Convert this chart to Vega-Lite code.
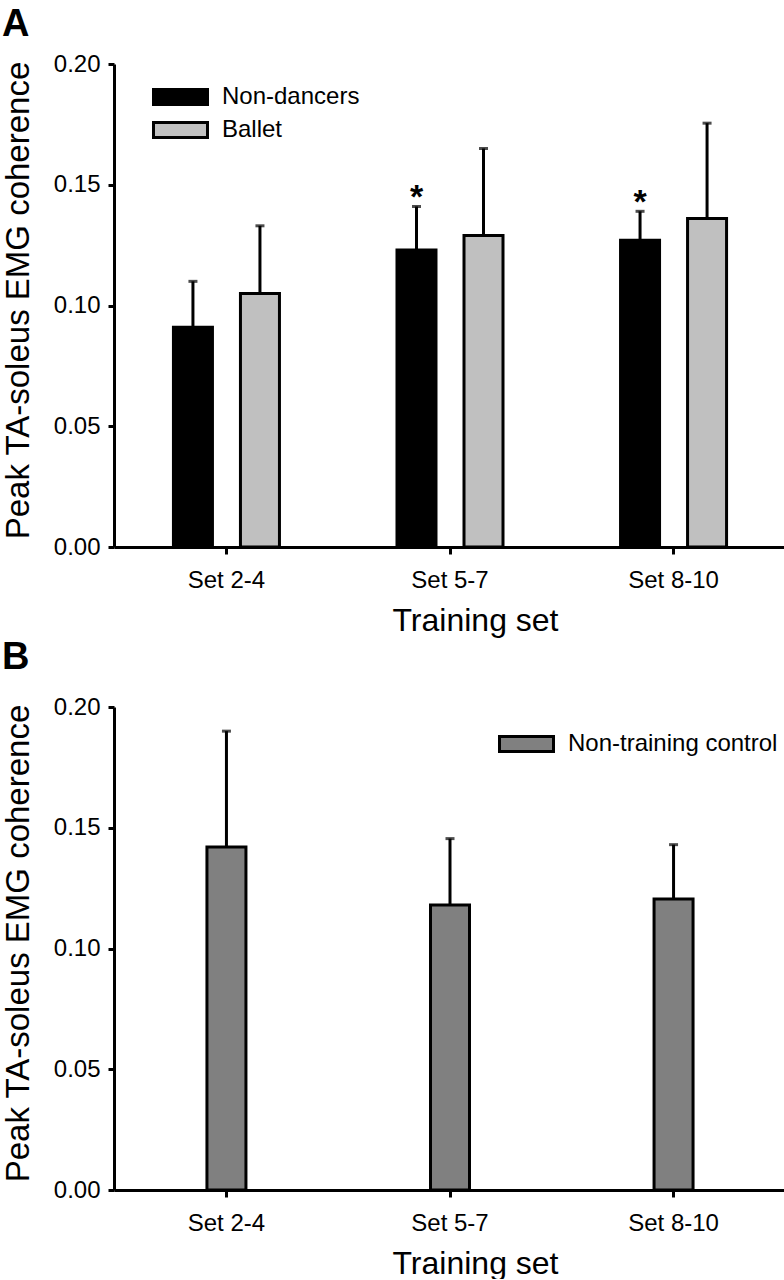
{
  "$schema": "https://vega.github.io/schema/vega-lite/v6.json",
  "background": "white",
  "padding": {"left": 1, "top": 6, "right": 0, "bottom": 0},
  "spacing": 3,
  "resolve": {"scale": {"fill": "independent"}, "legend": {"fill": "independent"}},
  "config": {
    "font": "Liberation Sans",
    "view": {"stroke": null},
    "axis": {
      "grid": false,
      "domainColor": "black",
      "domainWidth": 3,
      "tickColor": "black",
      "tickWidth": 3,
      "labelColor": "black",
      "titleColor": "black",
      "labelFont": "Liberation Sans",
      "titleFont": "Liberation Sans",
      "labelFontSize": 24,
      "titleFontSize": 32,
      "titleFontWeight": "normal"
    },
    "legend": {
      "labelFont": "Liberation Sans",
      "labelFontSize": 24,
      "labelColor": "black",
      "labelLimit": 400,
      "padding": 0
    },
    "title": {"fontSize": 38, "fontWeight": "bold", "color": "black", "anchor": "start", "frame": "bounds", "font": "Liberation Sans"}
  },
  "datasets": {
    "a": [
      {"set": "Set 2-4", "group": "Non-dancers", "value": 0.091, "upper": 0.110, "sig": ""},
      {"set": "Set 2-4", "group": "Ballet", "value": 0.105, "upper": 0.133, "sig": ""},
      {"set": "Set 5-7", "group": "Non-dancers", "value": 0.123, "upper": 0.141, "sig": "*"},
      {"set": "Set 5-7", "group": "Ballet", "value": 0.129, "upper": 0.165, "sig": ""},
      {"set": "Set 8-10", "group": "Non-dancers", "value": 0.127, "upper": 0.139, "sig": "*"},
      {"set": "Set 8-10", "group": "Ballet", "value": 0.136, "upper": 0.1755, "sig": ""}
    ],
    "b": [
      {"set": "Set 2-4", "group": "Non-training control", "value": 0.142, "upper": 0.190},
      {"set": "Set 5-7", "group": "Non-training control", "value": 0.118, "upper": 0.1455},
      {"set": "Set 8-10", "group": "Non-training control", "value": 0.1205, "upper": 0.143}
    ]
  },
  "vconcat": [
    {
      "title": {"text": "A", "offset": 8},
      "width": 672,
      "height": 483,
      "data": {"name": "a"},
      "encoding": {
        "x": {
          "field": "set", "type": "nominal", "sort": ["Set 2-4", "Set 5-7", "Set 8-10"],
          "scale": {"paddingInner": 0, "paddingOuter": 0.003},
          "axis": {"title": "Training set", "labelAngle": 0, "tickSize": 7, "labelPadding": 14, "titlePadding": 13, "titleX": 361, "minExtent": 45, "maxExtent": 45}
        },
        "xOffset": {
          "field": "group", "type": "nominal", "sort": ["Non-dancers", "Ballet"],
          "scale": {"paddingInner": 0.418, "paddingOuter": 0.877}
        }
      },
      "layer": [
        {
          "mark": {"type": "bar", "stroke": "black", "strokeWidth": 3},
          "encoding": {
            "y": {
              "field": "value", "type": "quantitative",
              "scale": {"domain": [0, 0.2], "nice": false, "zero": true},
              "axis": {"title": "Peak TA-soleus EMG coherence", "titleFontSize": 33, "titleY": 236, "values": [0, 0.05, 0.1, 0.15, 0.2], "format": ".2f", "tickSize": 6, "labelPadding": 8, "titlePadding": 17, "minExtent": 62, "maxExtent": 62}
            },
            "fill": {
              "field": "group", "type": "nominal", "sort": ["Non-dancers", "Ballet"],
              "scale": {"domain": ["Non-dancers", "Ballet"], "range": ["#000000", "#c0c0c0"]},
              "legend": {
                "title": null, "orient": "none", "legendX": 35, "legendY": 21,
                "symbolType": "M-1,-1H6.2V1H-1Z", "symbolSize": 225,
                "symbolStrokeColor": "black", "symbolStrokeWidth": 3, "symbolOpacity": 1,
                "labelOffset": 49, "rowPadding": 5
              }
            }
          }
        },
        {
          "mark": {"type": "rule", "color": "black", "strokeWidth": 3},
          "encoding": {
            "y": {"field": "value", "type": "quantitative"},
            "y2": {"field": "upper"}
          }
        },
        {
          "mark": {"type": "tick", "color": "black", "size": 9, "thickness": 3, "orient": "horizontal"},
          "encoding": {
            "y": {"field": "upper", "type": "quantitative"}
          }
        },
        {
          "mark": {"type": "text", "fontSize": 34, "fontWeight": "bold", "color": "black", "baseline": "alphabetic", "dy": 2},
          "encoding": {
            "y": {"field": "upper", "type": "quantitative"},
            "text": {"field": "sig"}
          }
        }
      ]
    },
    {
      "title": {"text": "B", "offset": 18},
      "width": 672,
      "height": 483,
      "data": {"name": "b"},
      "encoding": {
        "x": {
          "field": "set", "type": "nominal", "sort": ["Set 2-4", "Set 5-7", "Set 8-10"],
          "scale": {"paddingInner": 0, "paddingOuter": 0.003},
          "axis": {"title": "Training set", "labelAngle": 0, "tickSize": 7, "labelPadding": 14, "titlePadding": 13, "titleX": 361, "minExtent": 45, "maxExtent": 45}
        }
      },
      "layer": [
        {
          "mark": {"type": "bar", "stroke": "black", "strokeWidth": 3, "width": 39},
          "encoding": {
            "y": {
              "field": "value", "type": "quantitative",
              "scale": {"domain": [0, 0.2], "nice": false, "zero": true},
              "axis": {"title": "Peak TA-soleus EMG coherence", "titleFontSize": 33, "titleY": 236, "values": [0, 0.05, 0.1, 0.15, 0.2], "format": ".2f", "tickSize": 6, "labelPadding": 8, "titlePadding": 17, "minExtent": 62, "maxExtent": 62}
            },
            "fill": {
              "field": "group", "type": "nominal",
              "scale": {"domain": ["Non-training control"], "range": ["#808080"]},
              "legend": {
                "title": null, "orient": "none", "legendX": 381, "legendY": 25,
                "symbolType": "M-1,-1H6.2V1H-1Z", "symbolSize": 225,
                "symbolStrokeColor": "black", "symbolStrokeWidth": 3, "symbolOpacity": 1,
                "labelOffset": 49, "rowPadding": 5
              }
            }
          }
        },
        {
          "mark": {"type": "rule", "color": "black", "strokeWidth": 3},
          "encoding": {
            "y": {"field": "value", "type": "quantitative"},
            "y2": {"field": "upper"}
          }
        },
        {
          "mark": {"type": "tick", "color": "black", "size": 9, "thickness": 3, "orient": "horizontal"},
          "encoding": {
            "y": {"field": "upper", "type": "quantitative"}
          }
        }
      ]
    }
  ]
}
